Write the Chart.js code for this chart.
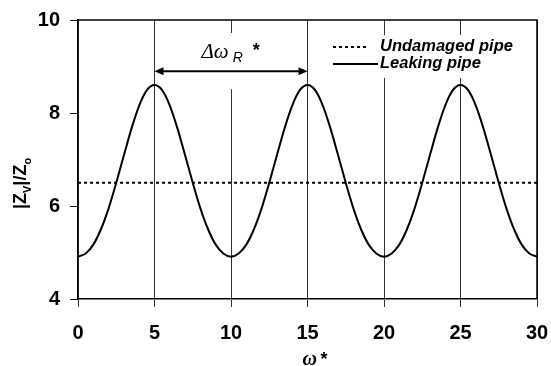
<!DOCTYPE html>
<html><head><meta charset="utf-8">
<script src="https://cdn.jsdelivr.net/npm/chart.js@4/dist/chart.umd.min.js"></script>
<style>html,body{margin:0;padding:0;background:#fff}</style>
</head><body><canvas id="c" width="551" height="366"></canvas>
<script>
const omega = [0,0.5,1,1.5,2,2.5,3,3.5,4,4.5,5,5.5,6,6.5,7,7.5,8,8.5,9,9.5,
  10,10.5,11,11.5,12,12.5,13,13.5,14,14.5,15,15.5,16,16.5,17,17.5,18,18.5,19,19.5,
  20,20.5,21,21.5,22,22.5,23,23.5,24,24.5,25,25.5,26,26.5,27,27.5,28,28.5,29,29.5,30];
const leakingPipe = [4.91,4.98,5.17,5.50,5.95,6.50,7.09,7.67,8.16,8.49,8.60,8.49,8.16,7.67,7.09,6.50,5.95,5.50,5.17,4.98,
  4.91,4.98,5.17,5.50,5.95,6.50,7.09,7.67,8.16,8.49,8.60,8.49,8.16,7.67,7.09,6.50,5.95,5.50,5.17,4.98,
  4.91,4.98,5.17,5.50,5.95,6.50,7.09,7.67,8.16,8.49,8.60,8.49,8.16,7.67,7.09,6.50,5.95,5.50,5.17,4.98,4.91];
const undamagedOmega = [0, 30];
const undamagedPipe = [6.5, 6.5];
const xTicks = [0,5,10,15,20,25,30];
const yTicks = [4,6,8,10];
const seriesNames = ['Undamaged pipe', 'Leaking pipe'];
const spacingLabel = {from: 5, to: 15, level: 8.9};

const SANS = '"Liberation Sans", Arial, sans-serif';
const SERIF = '"Liberation Serif", "Times New Roman", serif';

const overlay = {
  id: 'overlay',
  afterDraw(chart) {
    const ctx = chart.ctx, a = chart.chartArea;
    const xs = chart.scales.x, ys = chart.scales.y;
    ctx.save();
    // top & right border
    ctx.strokeStyle = '#000'; ctx.lineWidth = 1.5;
    ctx.beginPath();
    ctx.moveTo(a.left, a.top); ctx.lineTo(a.right, a.top); ctx.lineTo(a.right, a.bottom);
    ctx.stroke();

    // spacing annotation
    const x1 = xs.getPixelForValue(spacingLabel.from), x2 = xs.getPixelForValue(spacingLabel.to);
    const ya = ys.getPixelForValue(spacingLabel.level);
    ctx.fillStyle = '#fff';
    ctx.fillRect(x1 + 10, a.top + 13, x2 - x1 - 20, ya - a.top + 5);
    ctx.strokeStyle = '#000'; ctx.lineWidth = 2;
    ctx.beginPath(); ctx.moveTo(x1 + 6, ya); ctx.lineTo(x2 - 6, ya); ctx.stroke();
    ctx.fillStyle = '#000';
    ctx.beginPath(); ctx.moveTo(x1, ya); ctx.lineTo(x1 + 9, ya - 4); ctx.lineTo(x1 + 9, ya + 4); ctx.closePath(); ctx.fill();
    ctx.beginPath(); ctx.moveTo(x2, ya); ctx.lineTo(x2 - 9, ya - 4); ctx.lineTo(x2 - 9, ya + 4); ctx.closePath(); ctx.fill();
    ctx.textBaseline = 'alphabetic'; ctx.textAlign = 'left';
    ctx.font = 'italic 21px ' + SERIF;
    const tx = x1 + 47, tb = ya - 13;
    ctx.fillText('\u0394\u03c9', tx, tb);
    let w = ctx.measureText('\u0394\u03c9').width;
    ctx.font = 'italic 14px ' + SANS;
    ctx.fillText('R', tx + w + 4, tb + 4);
    const w2 = ctx.measureText('R').width;
    ctx.font = 'bold 18px ' + SANS;
    ctx.fillText('*', tx + w + 4 + w2 + 10, tb - 2);

    // legend
    const lx = a.right - 204;
    ctx.fillStyle = '#fff';
    ctx.fillRect(lx - 7, a.top + 15, a.right - lx + 5, 43);
    ctx.strokeStyle = '#000'; ctx.lineWidth = 2;
    ctx.setLineDash([3, 3]);
    ctx.beginPath(); ctx.moveTo(lx, 47); ctx.lineTo(lx + 36, 47); ctx.stroke();
    ctx.setLineDash([]);
    ctx.beginPath(); ctx.moveTo(lx, 64); ctx.lineTo(lx + 45, 64); ctx.stroke();
    ctx.fillStyle = '#000';
    ctx.font = 'italic bold 16.5px ' + SANS;
    ctx.fillText(seriesNames[0], lx + 47, 51);
    ctx.fillText(seriesNames[1], lx + 47, 68);

    // y-axis title |Z_V|/Z_o
    ctx.save();
    ctx.translate(26, 209);
    ctx.rotate(-Math.PI / 2);
    let px = 0;
    const part = (t, f, dy) => { ctx.font = f; ctx.fillText(t, px, dy); px += ctx.measureText(t).width; };
    part('|Z', 'bold 18px ' + SANS, 0);
    part('V', 'bold 11px ' + SANS, 5);
    part('|/Z', 'bold 18px ' + SANS, 0);
    part('o', 'bold 11px ' + SANS, 5);
    ctx.restore();

    // x-axis title
    const cx = (a.left + a.right) / 2;
    ctx.font = 'italic bold 20px ' + SERIF;
    ctx.textAlign = 'left';
    ctx.fillText('\u03c9', cx - 5, 365);
    ctx.font = 'bold 18px ' + SANS;
    ctx.fillText('*', cx + 13, 365);
    ctx.restore();
  }
};

new Chart(document.getElementById('c'), {
  type: 'line',
  data: {
    datasets: [
      { label: seriesNames[0], data: undamagedOmega.map((x, i) => ({x, y: undamagedPipe[i]})),
        borderColor: '#000', borderWidth: 2, borderDash: [3, 3], pointRadius: 0, fill: false },
      { label: seriesNames[1], data: omega.map((x, i) => ({x, y: leakingPipe[i]})),
        borderColor: '#000', borderWidth: 2, pointRadius: 0, fill: false, cubicInterpolationMode: 'monotone' }
    ]
  },
  options: {
    responsive: false, animation: false, devicePixelRatio: 1,
    layout: { padding: { top: 20, right: 14, left: 0, bottom: 0 } },
    plugins: { legend: { display: false }, tooltip: { enabled: false } },
    scales: {
      x: {
        type: 'linear', min: 0, max: 30,
        afterBuildTicks: s => { s.ticks = xTicks.map(v => ({value: v})); },
        afterFit: s => { s.height = 67; s.paddingLeft = 0; s.paddingRight = 0; },
        grid: { color: '#333', lineWidth: 1, tickLength: 8, drawOnChartArea: true },
        border: { display: true, color: '#000', width: 1.5 },
        ticks: { color: '#000', padding: 14, maxRotation: 0, font: { family: SANS, size: 20, weight: 'bold' } }
      },
      y: {
        min: 4, max: 10,
        afterBuildTicks: s => { s.ticks = yTicks.map(v => ({value: v})); },
        afterFit: s => { s.width = 78; s.paddingTop = 0; s.paddingBottom = 0; },
        grid: { color: '#000', lineWidth: 1, tickLength: 8, drawOnChartArea: false },
        border: { display: true, color: '#000', width: 1.5 },
        ticks: { color: '#000', padding: 10, font: { family: SANS, size: 20, weight: 'bold' } }
      }
    }
  },
  plugins: [overlay]
});
</script></body></html>
